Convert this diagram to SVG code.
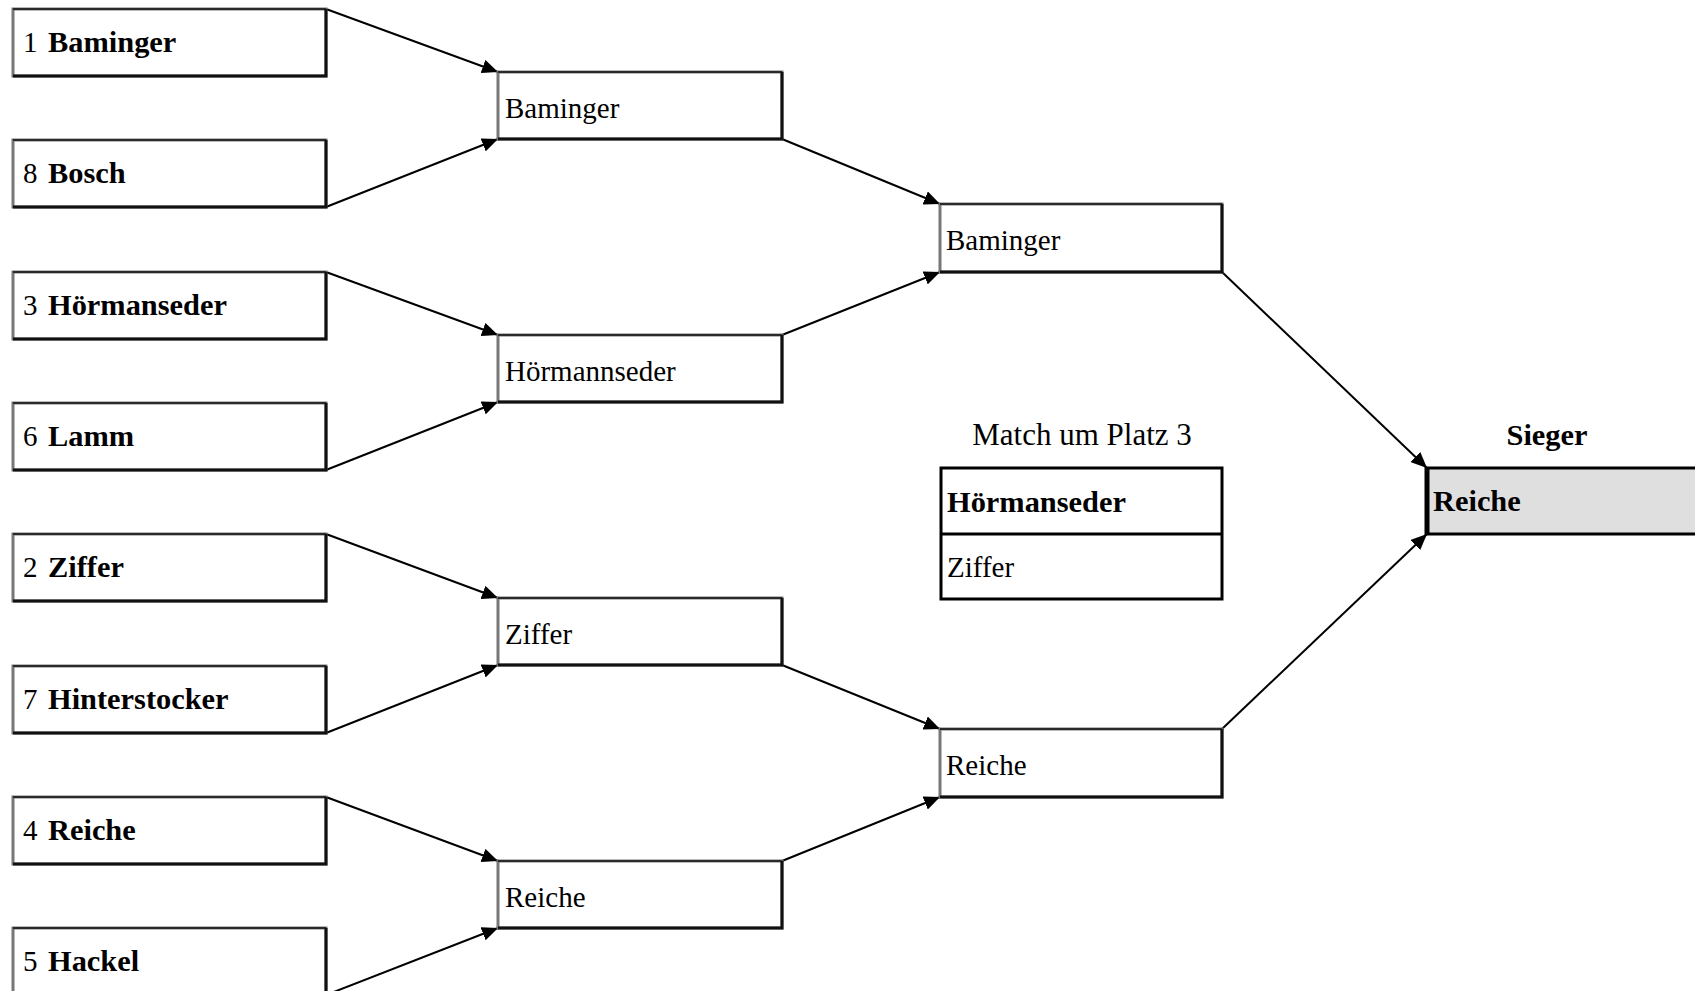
<svg xmlns="http://www.w3.org/2000/svg" width="1695" height="991" viewBox="0 0 1695 991">
<defs>
<marker id="arr" markerUnits="userSpaceOnUse" markerWidth="18" markerHeight="14" refX="16" refY="7" orient="auto">
<path d="M0,0 L16,7 L0,14 Z" fill="#000"/>
</marker>
</defs>
<style>
.frame{fill:#fff;stroke:#777;stroke-width:3}
.shade{fill:none;stroke:#111;stroke-width:3}
.top{fill:none;stroke:#111;stroke-width:1.4}
.t{font-family:"Liberation Serif","Times New Roman",serif;font-size:29px;fill:#000}
.b{font-weight:bold;font-size:30.4px}
.conn line{stroke:#000;stroke-width:2;marker-end:url(#arr)}
</style>
<rect width="1695" height="991" fill="#fff"/>

<g id="connectors" class="conn">
<line x1="326" y1="9" x2="498" y2="72"/>
<line x1="326" y1="207" x2="498" y2="139"/>
<line x1="326" y1="272" x2="498" y2="335"/>
<line x1="326" y1="470" x2="498" y2="402"/>
<line x1="326" y1="534" x2="498" y2="598"/>
<line x1="326" y1="733" x2="498" y2="665"/>
<line x1="326" y1="797" x2="498" y2="861"/>
<line x1="326" y1="995" x2="498" y2="928"/>
<line x1="782" y1="139" x2="940" y2="204"/>
<line x1="782" y1="335" x2="940" y2="272"/>
<line x1="782" y1="665" x2="940" y2="729"/>
<line x1="782" y1="861" x2="940" y2="797"/>
<line x1="1222" y1="272" x2="1427" y2="468"/>
<line x1="1222" y1="729" x2="1427" y2="534"/>
</g>

<g id="r1-1"><rect class="frame" x="13" y="9" width="313" height="67"/><path class="shade" d="M326,9 V76 H13"/><path class="top" d="M13,9 H326"/><text class="t" x="23" y="52">1</text><text class="t b" x="48" y="52">Baminger</text></g>
<g id="r1-8"><rect class="frame" x="13" y="140" width="313" height="67"/><path class="shade" d="M326,140 V207 H13"/><path class="top" d="M13,140 H326"/><text class="t" x="23" y="183">8</text><text class="t b" x="48" y="183">Bosch</text></g>
<g id="r1-3"><rect class="frame" x="13" y="272" width="313" height="67"/><path class="shade" d="M326,272 V339 H13"/><path class="top" d="M13,272 H326"/><text class="t" x="23" y="315">3</text><text class="t b" x="48" y="315">Hörmanseder</text></g>
<g id="r1-6"><rect class="frame" x="13" y="403" width="313" height="67"/><path class="shade" d="M326,403 V470 H13"/><path class="top" d="M13,403 H326"/><text class="t" x="23" y="446">6</text><text class="t b" x="48" y="446">Lamm</text></g>
<g id="r1-2"><rect class="frame" x="13" y="534" width="313" height="67"/><path class="shade" d="M326,534 V601 H13"/><path class="top" d="M13,534 H326"/><text class="t" x="23" y="577">2</text><text class="t b" x="48" y="577">Ziffer</text></g>
<g id="r1-7"><rect class="frame" x="13" y="666" width="313" height="67"/><path class="shade" d="M326,666 V733 H13"/><path class="top" d="M13,666 H326"/><text class="t" x="23" y="709">7</text><text class="t b" x="48" y="709">Hinterstocker</text></g>
<g id="r1-4"><rect class="frame" x="13" y="797" width="313" height="67"/><path class="shade" d="M326,797 V864 H13"/><path class="top" d="M13,797 H326"/><text class="t" x="23" y="840">4</text><text class="t b" x="48" y="840">Reiche</text></g>
<g id="r1-5"><rect class="frame" x="13" y="928" width="313" height="67"/><path class="shade" d="M326,928 V995 H13"/><path class="top" d="M13,928 H326"/><text class="t" x="23" y="971">5</text><text class="t b" x="48" y="971">Hackel</text></g>

<g id="r2-1"><rect class="frame" x="498" y="72" width="284" height="67"/><path class="shade" d="M782,72 V139 H498"/><path class="top" d="M498,72 H782"/><text class="t" x="505" y="118">Baminger</text></g>
<g id="r2-2"><rect class="frame" x="498" y="335" width="284" height="67"/><path class="shade" d="M782,335 V402 H498"/><path class="top" d="M498,335 H782"/><text class="t" x="505" y="381">Hörmannseder</text></g>
<g id="r2-3"><rect class="frame" x="498" y="598" width="284" height="67"/><path class="shade" d="M782,598 V665 H498"/><path class="top" d="M498,598 H782"/><text class="t" x="505" y="644">Ziffer</text></g>
<g id="r2-4"><rect class="frame" x="498" y="861" width="284" height="67"/><path class="shade" d="M782,861 V928 H498"/><path class="top" d="M498,861 H782"/><text class="t" x="505" y="907">Reiche</text></g>

<g id="r3-1"><rect class="frame" x="940" y="204" width="282" height="68"/><path class="shade" d="M1222,204 V272 H940"/><path class="top" d="M940,204 H1222"/><text class="t" x="946" y="250">Baminger</text></g>
<g id="r3-2"><rect class="frame" x="940" y="729" width="282" height="68"/><path class="shade" d="M1222,729 V797 H940"/><path class="top" d="M940,729 H1222"/><text class="t" x="946" y="775">Reiche</text></g>

<g id="third-place">
<text class="t" x="1082" y="445" text-anchor="middle" style="font-size:31px">Match um Platz 3</text>
<rect x="941" y="468" width="281" height="131" fill="#fff" stroke="#000" stroke-width="3"/>
<line x1="941" y1="534" x2="1222" y2="534" stroke="#000" stroke-width="3"/>
<text class="t b" x="947" y="512">Hörmanseder</text>
<text class="t" x="947" y="577">Ziffer</text>
</g>

<g id="winner">
<text class="t b" x="1547" y="445" text-anchor="middle">Sieger</text>
<rect x="1427" y="468" width="280" height="66" fill="#dfdfdf" stroke="#000" stroke-width="3"/>
<line x1="1427" y1="467" x2="1427" y2="535" stroke="#000" stroke-width="5"/>
<text class="t b" x="1433" y="511">Reiche</text>
</g>
</svg>
